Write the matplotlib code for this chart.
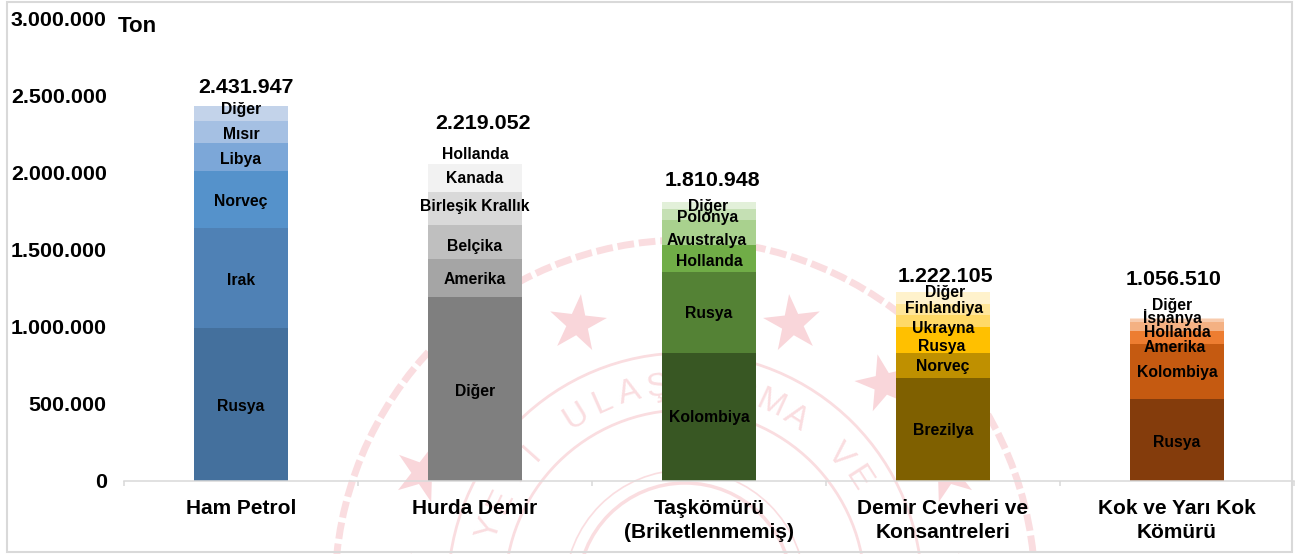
import numpy as np
import matplotlib
matplotlib.use("Agg")
import matplotlib.pyplot as plt
from matplotlib.patches import Circle, PathPatch, Rectangle
from matplotlib.path import Path
from matplotlib.transforms import Affine2D

plt.rcParams['font.family'] = ['Liberation Sans', 'DejaVu Sans']

# ---- data ----
categories = ['Ham Petrol', 'Hurda Demir', 'Taşkömürü\n(Briketlenmemiş)',
              'Demir Cevheri ve\nKonsantreleri', 'Kok ve Yarı Kok\nKömürü']
totals = [2431947, 2219052, 1810948, 1222105, 1056510]
total_labels = ['2.431.947', '2.219.052', '1.810.948', '1.222.105', '1.056.510']

ham_petrol_names = ['Rusya', 'Irak', 'Norveç', 'Libya', 'Mısır', 'Diğer']
ham_petrol_values = [990000, 648000, 369000, 181000, 142000, 101947]

hurda_names = ['Diğer', 'Amerika', 'Belçika', 'Birleşik Krallık', 'Kanada', 'Hollanda']
hurda_values = [1192000, 246000, 220000, 214000, 181000, 166052]

taskomuru_names = ['Kolombiya', 'Rusya', 'Hollanda', 'Avustralya', 'Polonya', 'Diğer']
taskomuru_values = [829000, 525000, 175000, 162000, 69000, 50948]

demir_names = ['Brezilya', 'Norveç', 'Rusya', 'Ukrayna', 'Finlandiya', 'Diğer']
demir_values = [667000, 162000, 168000, 78000, 73000, 74105]

kok_names = ['Rusya', 'Kolombiya', 'Amerika', 'Hollanda', 'İspanya', 'Diğer']
kok_values = [531000, 356000, 84000, 60000, 16000, 9510]

y_ticks = [0, 500000, 1000000, 1500000, 2000000, 2500000, 3000000]
y_tick_labels = ['0', '500.000', '1.000.000', '1.500.000', '2.000.000', '2.500.000', '3.000.000']

# ---- styles ----
names = [ham_petrol_names, hurda_names, taskomuru_names, demir_names, kok_names]
values = [ham_petrol_values, hurda_values, taskomuru_values, demir_values, kok_values]
colors = [
    ['#44709d', '#4f81b5', '#5592cb', '#7ca7d8', '#a5c0e3', '#c3d3ea'],
    ['#7f7f7f', '#a5a5a5', '#bfbfbf', '#d9d9d9', '#f2f2f2', '#ffffff'],
    ['#385723', '#548235', '#70ad47', '#a9d18e', '#c5e0b4', '#e2f0d9'],
    ['#7f6000', '#bf9000', '#ffc000', '#ffd966', '#ffe699', '#fff2cc'],
    ['#843c0c', '#c55a11', '#ed7d31', '#f4b183', '#f8cbad', '#fbe5d6'],
]
# label offsets in pixels from segment centre (dx, dy up)
label_dx = [[0]*6, [0]*6, [0, 0, 0, -2, -1, -1], [0, 0, -1, 0, 1, 2], [0, 0, -2, 0, -5, -5]]
label_dy = [[-1.5, -2, -1.5, -2, -2, 4], [-2, -1, -4, 2.5, 0, -3], [0, -1, -2.5, -7.5, -2.5, -1],
            [-1, -1, -6, -7, .5, 6], [-2, -1, -9.5, -5.5, 3.5, 13]]
total_dx = [5, 7.5, 3, 2.5, -3]
total_dy = [18, 15.5, 21, 16, 38]

W, H = 1295, 554
fig = plt.figure(figsize=(W/100, H/100), dpi=100, facecolor='white')

# ---- watermark (background seal) ----
bg = fig.add_axes([0, 0, 1, 1], zorder=0)
bg.set_xlim(0, W); bg.set_ylim(H, 0); bg.axis('off')
pink = '#fadde0'
cx, cy = 685, 590
bg.add_patch(Circle((cx, cy), 350, fill=False, ec=pink, lw=5, ls=(0, (2.4, 0.7))))
for r, lw in [(237, 2), (180, 2), (107, 2.5), (120, 1.2)]:
    bg.add_patch(Circle((cx, cy), r, fill=False, ec=pink, lw=lw))
star = Path.unit_regular_star(5, 0.38)
for a in [-88, -66, -44, -22, 22, 44, 66, 88]:
    t = np.radians(a)
    px, py = cx + 287*np.sin(t), cy - 287*np.cos(t)
    tr = Affine2D().scale(30, 30).rotate_deg(180 - a*0.3).translate(px, py) + bg.transData
    bg.add_patch(PathPatch(star, fc='#f9d6da', ec='none', transform=tr))
seal = 'YETİ ULAŞTIRMA VE'
for i, ch in enumerate(seal):
    a = -32 + (i - 5)*8.1
    t = np.radians(a)
    bg.text(cx + 205*np.sin(t), cy - 205*np.cos(t), ch, rotation=-a, fontsize=24,
            color=pink, ha='center', va='center')
bg.add_patch(Rectangle((7, 2), 1285, 550, fill=False, ec='#d9d9d9', lw=1.5))

# ---- main chart ----
ax = fig.add_axes([124/W, 1 - 481/H, 1170/W, 463/H], zorder=1)
ax.patch.set_alpha(0)
ax.set_xlim(-0.5, 4.5)
ax.set_ylim(0, 3000000)
x = np.arange(len(categories))
bar_w = 94/234

for i in x:
    bottom = 0
    for name, val, col, dx, dy in zip(names[i], values[i], colors[i], label_dx[i], label_dy[i]):
        ax.bar(i, val, bottom=bottom, width=bar_w, color=col, linewidth=0, zorder=2)
        ax.annotate(name, (i, bottom + val/2), xytext=(dx*0.72, dy*0.72), textcoords='offset points',
                    ha='center', va='center', fontsize=11.3, fontweight='bold', color='black', zorder=3)
        bottom += val
    ax.annotate(total_labels[i], (i, totals[i]), xytext=(total_dx[i]*0.72, total_dy[i]*0.72),
                textcoords='offset points', ha='center', va='center',
                fontsize=15.4, fontweight='bold', color='black', zorder=4)

for s in ['top', 'right', 'left']:
    ax.spines[s].set_visible(False)
ax.spines['bottom'].set_color('#d9d9d9')
ax.spines['bottom'].set_linewidth(1.1)

ax.set_yticks(y_ticks)
ax.set_yticklabels(y_tick_labels, fontsize=15.4, fontweight='bold')
ax.tick_params(axis='y', length=0, pad=12.5)

ax.set_xticks(x)
ax.set_xticklabels(categories, fontsize=15, fontweight='bold', linespacing=1.35)
ax.tick_params(axis='x', which='major', length=0, pad=13)
ax.set_xticks(np.arange(-0.5, 5.0, 1), minor=True)
ax.tick_params(axis='x', which='minor', length=3.6, width=1.1, color='#d9d9d9')

fig.text(137/W, 1 - 27/H, 'Ton', fontsize=16, fontweight='bold', ha='center', va='center')

fig.savefig('out.png', dpi=100)
